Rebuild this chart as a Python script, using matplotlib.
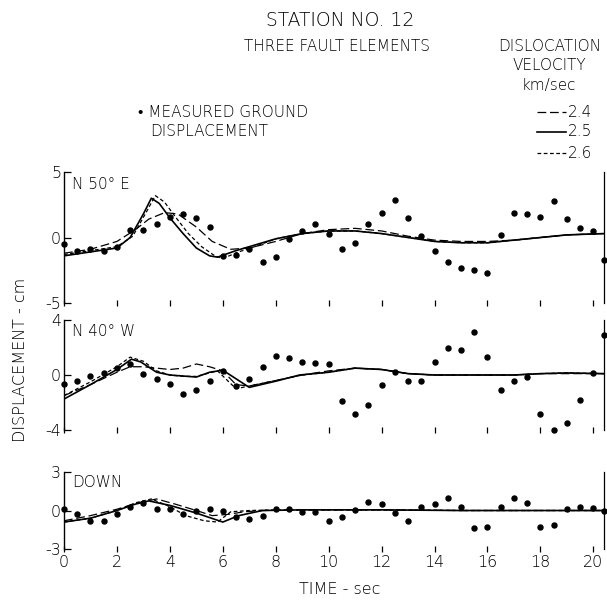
import numpy as np
import matplotlib
matplotlib.use("Agg")
import matplotlib.pyplot as plt
from matplotlib.lines import Line2D

plt.rcParams['font.family'] = ['DejaVu Sans', 'Liberation Sans']
plt.rcParams['font.weight'] = 'light'

# measured ground displacement, one point every 0.5 s (plus one at the right edge)
t_meas = [0, 0.5, 1, 1.5, 2, 2.5, 3, 3.5, 4, 4.5, 5, 5.5, 6, 6.5, 7, 7.5, 8, 8.5, 9, 9.5,
          10, 10.5, 11, 11.5, 12, 12.5, 13, 13.5, 14, 14.5, 15, 15.5, 16, 16.5, 17, 17.5,
          18, 18.5, 19, 19.5, 20, 20.4]

ne_meas = [-0.5, -1.0, -0.9, -1.0, -0.7, 0.6, 0.6, 1.0, 1.6, 1.8, 1.5, 0.8, -1.4, -1.3,
           -0.9, -1.9, -1.5, -0.1, 0.5, 1.0, 0.3, -0.9, -0.4, 1.0, 1.9, 2.9, 1.5, 0.1,
           -1.0, -1.9, -2.3, -2.5, -2.7, 0.2, 1.9, 1.8, 1.6, 2.8, 1.4, 0.7, 0.5, -1.75]

nw_meas = [-0.65, -0.45, -0.05, 0.15, 0.5, 0.8, 0.05, -0.3, -0.65, -1.4, -1.1, -0.4, 0.3,
           -0.8, -0.3, 0.6, 1.4, 1.2, 0.95, 0.85, 0.8, -1.9, -2.85, -2.2, -0.75, 0.2,
           -0.45, -0.45, 0.95, 1.95, 1.8, 3.1, 1.3, -1.1, -0.4, -0.15, -2.85, -4.0, -3.5,
           -1.8, 0.15, 2.9]

dn_meas = [0.15, -0.25, -0.8, -0.8, -0.3, 0.3, 0.6, 0.15, 0.1, -0.3, 0.0, 0.1, 0.0, -0.5,
           -0.65, -0.4, 0.15, 0.1, -0.15, -0.15, -0.8, -0.5, 0.05, 0.7, 0.5, -0.2, -0.85,
           0.25, 0.5, 1.0, 0.25, -1.4, -1.25, 0.25, 1.0, 0.55, -1.25, -1.1, 0.1, 0.3, 0.2,
           0.0]

# synthetic curves, dislocation velocity 2.4 / 2.5 / 2.6 km/sec
ne_t24 = [0, 1, 2, 2.7, 3.2, 3.8, 4.3, 5, 5.6, 6.3, 7, 8, 9, 10, 11, 12, 13, 14, 15, 16, 17, 18, 19, 20.4]
ne_v24 = [-1.2, -0.9, -0.3, 0.6, 1.4, 1.9, 1.8, 0.8, -0.3, -0.9, -0.8, -0.3, 0.3, 0.6, 0.7, 0.5, 0.1, -0.2, -0.3, -0.3, -0.2, 0.0, 0.2, 0.3]
ne_t25 = [0, 1, 2, 2.5, 3, 3.3, 3.6, 4, 4.5, 5, 5.5, 5.8, 6.5, 7, 8, 9, 10, 11, 12, 13, 14, 15, 16, 17, 18, 19, 20.4]
ne_v25 = [-1.4, -1.1, -0.8, 0.0, 1.8, 3.0, 2.6, 1.5, 0.3, -0.8, -1.4, -1.5, -1.0, -0.7, -0.1, 0.3, 0.5, 0.5, 0.3, 0.0, -0.3, -0.4, -0.4, -0.2, 0.0, 0.2, 0.3]
ne_t26 = [0, 1, 2, 2.6, 3.1, 3.45, 3.8, 4.2, 4.7, 5.2, 5.7, 6.0, 6.6, 7.2, 8, 9, 10, 11, 12, 13, 14, 15, 16, 17, 18, 19, 20.4]
ne_v26 = [-1.3, -1.0, -0.7, 0.1, 1.9, 3.2, 2.7, 1.6, 0.3, -0.7, -1.4, -1.6, -1.1, -0.7, -0.1, 0.3, 0.5, 0.5, 0.3, 0.0, -0.3, -0.4, -0.4, -0.2, 0.0, 0.2, 0.3]

nw_t24 = [0, 1, 2, 2.5, 3, 3.5, 4, 4.5, 5, 5.5, 6, 6.5, 7, 8, 9, 10, 11, 12, 13, 14, 15, 16, 17, 18, 19, 20.4]
nw_v24 = [-1.5, -0.7, 0.2, 0.6, 0.6, 0.5, 0.4, 0.5, 0.8, 0.6, 0.3, -0.7, -0.8, -0.4, 0.0, 0.3, 0.5, 0.4, 0.1, 0.0, 0.0, 0.0, 0.0, 0.1, 0.1, 0.1]
nw_t25 = [0, 1, 2, 2.55, 2.9, 3.5, 4, 5, 5.5, 6, 7, 8, 8.9, 10, 11, 12, 13, 14, 15, 16, 17, 18, 19, 20.4]
nw_v25 = [-1.75, -0.7, 0.4, 1.15, 0.95, 0.2, 0.0, -0.15, 0.2, 0.35, -0.9, -0.45, 0.0, 0.2, 0.5, 0.4, 0.1, 0.0, 0.0, 0.0, 0.0, 0.1, 0.15, 0.1]
nw_t26 = [0, 1, 2, 2.5, 3, 3.5, 4, 4.5, 5, 5.8, 6.5, 7, 8, 9, 10, 11, 12, 13, 14, 15, 16, 17, 18, 19, 20.4]
nw_v26 = [-1.5, -0.5, 0.6, 1.3, 1.0, 0.3, 0.0, -0.1, -0.1, 0.3, -1.0, -0.8, -0.4, 0.0, 0.2, 0.5, 0.4, 0.1, 0.0, 0.0, 0.0, 0.0, 0.1, 0.15, 0.1]

dn_t24 = [0, 1, 2, 2.8, 3.5, 4.2, 5, 5.6, 6.2, 6.8, 7.5, 9, 12, 15, 18, 20.4]
dn_v24 = [-0.8, -0.4, 0.1, 0.6, 0.9, 0.5, 0.0, -0.4, -0.3, -0.1, 0.0, 0.05, 0.05, 0.0, 0.0, 0.0]
dn_t25 = [0, 1, 2, 2.7, 3.2, 4, 5, 6, 6.6, 7.5, 9, 12, 15, 18, 20.4]
dn_v25 = [-0.9, -0.6, 0.0, 0.5, 0.75, 0.4, -0.2, -0.9, -0.4, 0.0, 0.05, 0.05, 0.0, 0.0, 0.0]
dn_t26 = [0, 1, 2, 2.7, 3.3, 4, 4.6, 5.3, 5.8, 6.3, 7, 8, 12, 15, 18, 20.4]
dn_v26 = [-0.9, -0.6, 0.0, 0.6, 0.9, 0.3, -0.4, -0.8, -0.9, -0.1, 0.0, 0.05, 0.05, 0.0, 0.0, 0.0]

panels = [
    ("N 50° E", 5, ne_meas, (ne_t24, ne_v24), (ne_t25, ne_v25), (ne_t26, ne_v26)),
    ("N 40° W", 4, nw_meas, (nw_t24, nw_v24), (nw_t25, nw_v25), (nw_t26, nw_v26)),
    ("DOWN", 3, dn_meas, (dn_t24, dn_v24), (dn_t25, dn_v25), (dn_t26, dn_v26)),
]

# axes boxes in figure fractions (left, bottom, width, height)
boxes = [
    [0.1054, 0.495, 0.8896, 0.2183],
    [0.1054, 0.2833, 0.8896, 0.1834],
    [0.1054, 0.085, 0.8896, 0.1283],
]

fig = plt.figure(figsize=(6.07, 6.0), dpi=100)

for i, (name, lim, meas, c24, c25, c26) in enumerate(panels):
    ax = fig.add_axes(boxes[i])
    ax.plot(t_meas, meas, 'o', color='black', ms=3.6, clip_on=False, zorder=5)
    ax.plot(c24[0], c24[1], color='black', lw=0.9, dashes=(7, 3))
    ax.plot(c25[0], c25[1], color='black', lw=1.2)
    ax.plot(c26[0], c26[1], color='black', lw=0.9, dashes=(3, 2))
    ax.set_xlim(0, 20.4)
    ax.set_ylim(-lim, lim)
    ax.set_yticks([-lim, 0, lim])
    ax.set_yticklabels([f"-{lim}", "0", f"{lim}"], fontsize=11.5)
    ax.set_xticks(range(0, 21, 2))
    ax.spines['top'].set_visible(False)
    ax.spines['bottom'].set_visible(False)
    ax.spines['right'].set_linewidth(0.9)
    ax.spines['left'].set_linewidth(1.0)
    ax.tick_params(axis='y', direction='in', length=5, width=0.9, pad=2)
    ax.tick_params(axis='x', direction='inout', length=5, width=0.9)
    if i < 2:
        ax.tick_params(axis='x', labelbottom=False)
    else:
        ax.set_xticklabels([str(v) for v in range(0, 21, 2)], fontsize=11.5)
        ax.tick_params(axis='x', pad=2)
    ax.text(0.015, 0.96, name, transform=ax.transAxes, ha='left', va='top', fontsize=11)

fig.text(0.56, 0.965, "STATION NO. 12", ha='center', va='center', fontsize=13.5)
fig.text(0.555, 0.922, "THREE FAULT ELEMENTS", ha='center', va='center', fontsize=11)
fig.text(0.905, 0.922, "DISLOCATION", ha='center', va='center', fontsize=11)
fig.text(0.905, 0.891, "VELOCITY", ha='center', va='center', fontsize=11)
fig.text(0.905, 0.858, "km/sec", ha='center', va='center', fontsize=11)

fig.text(0.228, 0.813, "\u2022 MEASURED GROUND", ha='left', va='center', fontsize=11)
fig.text(0.247, 0.780, "DISPLACEMENT", ha='left', va='center', fontsize=11)

leg_labels = ["2.4", "2.5", "2.6"]
leg_styles = [dict(lw=0.9, dashes=(7, 3)), dict(lw=1.2), dict(lw=0.9, dashes=(3, 2))]
leg_y = [0.813, 0.780, 0.745]
for lab, sty, y in zip(leg_labels, leg_styles, leg_y):
    fig.add_artist(Line2D([0.885, 0.932], [y, y], color='black', transform=fig.transFigure, **sty))
    fig.text(0.935, y, lab, ha='left', va='center', fontsize=11)

fig.text(0.033, 0.40, "DISPLACEMENT - cm", rotation=90, ha='center', va='center', fontsize=11.5)
fig.text(0.56, 0.017, "TIME - sec", ha='center', va='center', fontsize=11.5)

fig.savefig("out.png", dpi=100)
